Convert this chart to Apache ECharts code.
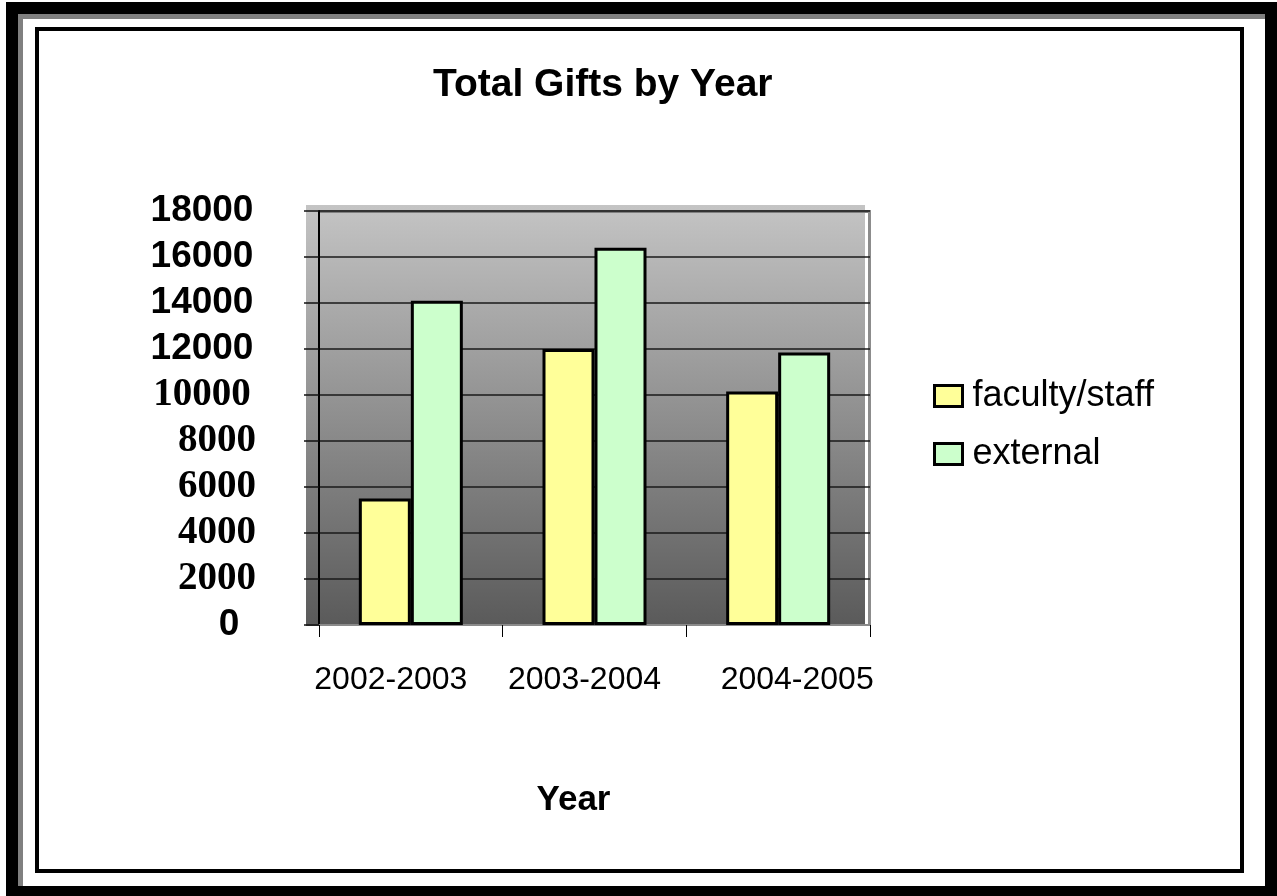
<!DOCTYPE html>
<html>
<head>
<meta charset="utf-8">
<style>
  html, body { margin: 0; padding: 0; background: #fff; }
  #chart { width: 1277px; height: 896px; }
</style>
<script src="https://cdn.jsdelivr.net/npm/echarts@6/dist/echarts.min.js"></script>
</head>
<body>
<div id="chart"></div>
<script>
const categories = ['2002-2003', '2003-2004', '2004-2005'];
const facultyStaff = [5500, 12000, 10150];
const external = [14100, 16400, 11850];
const seriesNames = ['faculty/staff', 'external'];
const titleText = 'Total Gifts by Year';
const xAxisTitle = 'Year';
const yMin = 0, yMax = 18000, yStep = 2000;
const serifTicks = [2000, 4000, 6000, 8000];

const chart = echarts.init(document.getElementById('chart'), null, { renderer: 'canvas' });

const SANS = 'Liberation Sans, Arial, sans-serif';
const SERIF = 'Liberation Serif, Times New Roman, serif';

const option = {
  animation: false,
  backgroundColor: '#ffffff',
  title: {
    text: titleText,
    left: 428,
    top: 61,
    textStyle: { fontFamily: SANS, fontWeight: 'bold', fontSize: 39, color: '#000' }
  },
  graphic: [
    { type: 'rect', z: -20, shape: { x: 6, y: 2, width: 1271, height: 894 }, style: { fill: '#000' } },
    { type: 'rect', z: -19, shape: { x: 18, y: 14, width: 1247, height: 872 }, style: { fill: '#808080' } },
    { type: 'rect', z: -18, shape: { x: 23, y: 19, width: 1242, height: 867 }, style: { fill: '#ffffff' } },
    { type: 'rect', z: -17, shape: { x: 37, y: 29, width: 1205, height: 842 }, style: { fill: 'none', stroke: '#000', lineWidth: 4 } },
    { type: 'rect', z: -16, shape: { x: 306, y: 205, width: 559, height: 421 },
      style: { fill: new echarts.graphic.LinearGradient(0, 0, 0, 1, [
        { offset: 0, color: '#c4c4c4' }, { offset: 1, color: '#5a5a5a' }
      ]) } },
    { type: 'rect', z: -15, shape: { x: 319, y: 210, width: 552, height: 3 }, style: { fill: '#808080' } },
    { type: 'rect', z: -15, shape: { x: 868, y: 210, width: 3, height: 416 }, style: { fill: '#8c8c8c' } }
  ],
  legend: {
    orient: 'vertical',
    left: 928,
    top: 373,
    itemWidth: 28,
    itemHeight: 21,
    itemGap: 22,
    icon: 'rect',
    itemStyle: { borderColor: '#000', borderWidth: 3 },
    textStyle: { fontFamily: SANS, fontSize: 36, lineHeight: 36, color: '#000', padding: [0, 0, 0, 5] },
    data: seriesNames
  },
  grid: { left: 319, right: 407, top: 211, bottom: 271, containLabel: false },
  xAxis: {
    type: 'category',
    data: categories,
    boundaryGap: true,
    name: xAxisTitle,
    nameLocation: 'middle',
    nameGap: 158,
    nameTextStyle: { fontFamily: SANS, fontWeight: 'bold', fontSize: 35, color: '#000', padding: [0, 42, 0, 0] },
    axisLine: { show: true, lineStyle: { color: '#8a8a8a', width: 2 } },
    axisTick: { show: true, interval: 0, length: 12, lineStyle: { color: '#000', width: 1 } },
    axisLabel: {
      interval: 0, hideOverlap: false, margin: 39,
      formatter: function (v, i) { return '{c' + i + '|' + v + '}'; },
      rich: {
        c0: { fontFamily: SANS, fontSize: 32, color: '#000', padding: [0, 40, 0, 0] },
        c1: { fontFamily: SANS, fontSize: 32, color: '#000', padding: [0, 20, 0, 0] },
        c2: { fontFamily: SANS, fontSize: 32, color: '#000', padding: [0, 0, 0, 38] }
      }
    },
    splitLine: { show: false }
  },
  yAxis: {
    type: 'value',
    min: yMin,
    max: yMax,
    interval: yStep,
    axisLine: { show: true, lineStyle: { color: '#000', width: 2 } },
    axisTick: { show: true, length: 15, lineStyle: { color: '#111', width: 1.5 } },
    splitLine: { show: true, lineStyle: { color: '#1a1a1a', width: 1.5 } },
    axisLabel: {
      align: 'center',
      margin: 117,
      formatter: function (v) {
        if (v === 0) return '{z|' + v + '}';
        if (v === 10000) return '{w|' + v + '}';
        return (serifTicks.indexOf(v) >= 0 ? '{t|' : '{s|') + v + '}';
      },
      rich: {
        s: { fontFamily: SANS, fontWeight: 'bold', fontSize: 37, color: '#000' },
        w: { fontFamily: SERIF, fontWeight: 'bold', fontSize: 39, color: '#000' },
        t: { fontFamily: SERIF, fontWeight: 'bold', fontSize: 39, color: '#000', padding: [0, 0, 0, 30] },
        z: { fontFamily: SANS, fontWeight: 'bold', fontSize: 37, color: '#000', padding: [0, 0, 0, 54] }
      }
    }
  },
  series: [
    {
      name: seriesNames[0],
      type: 'bar',
      data: facultyStaff,
      barWidth: 52,
      barGap: '0%',
      itemStyle: { color: '#ffff99', borderColor: '#000', borderWidth: 3 }
    },
    {
      name: seriesNames[1],
      type: 'bar',
      data: external,
      barWidth: 52,
      barGap: '0%',
      itemStyle: { color: '#ccffcc', borderColor: '#000', borderWidth: 3 }
    }
  ]
};

chart.setOption(option);
</script>
</body>
</html>
